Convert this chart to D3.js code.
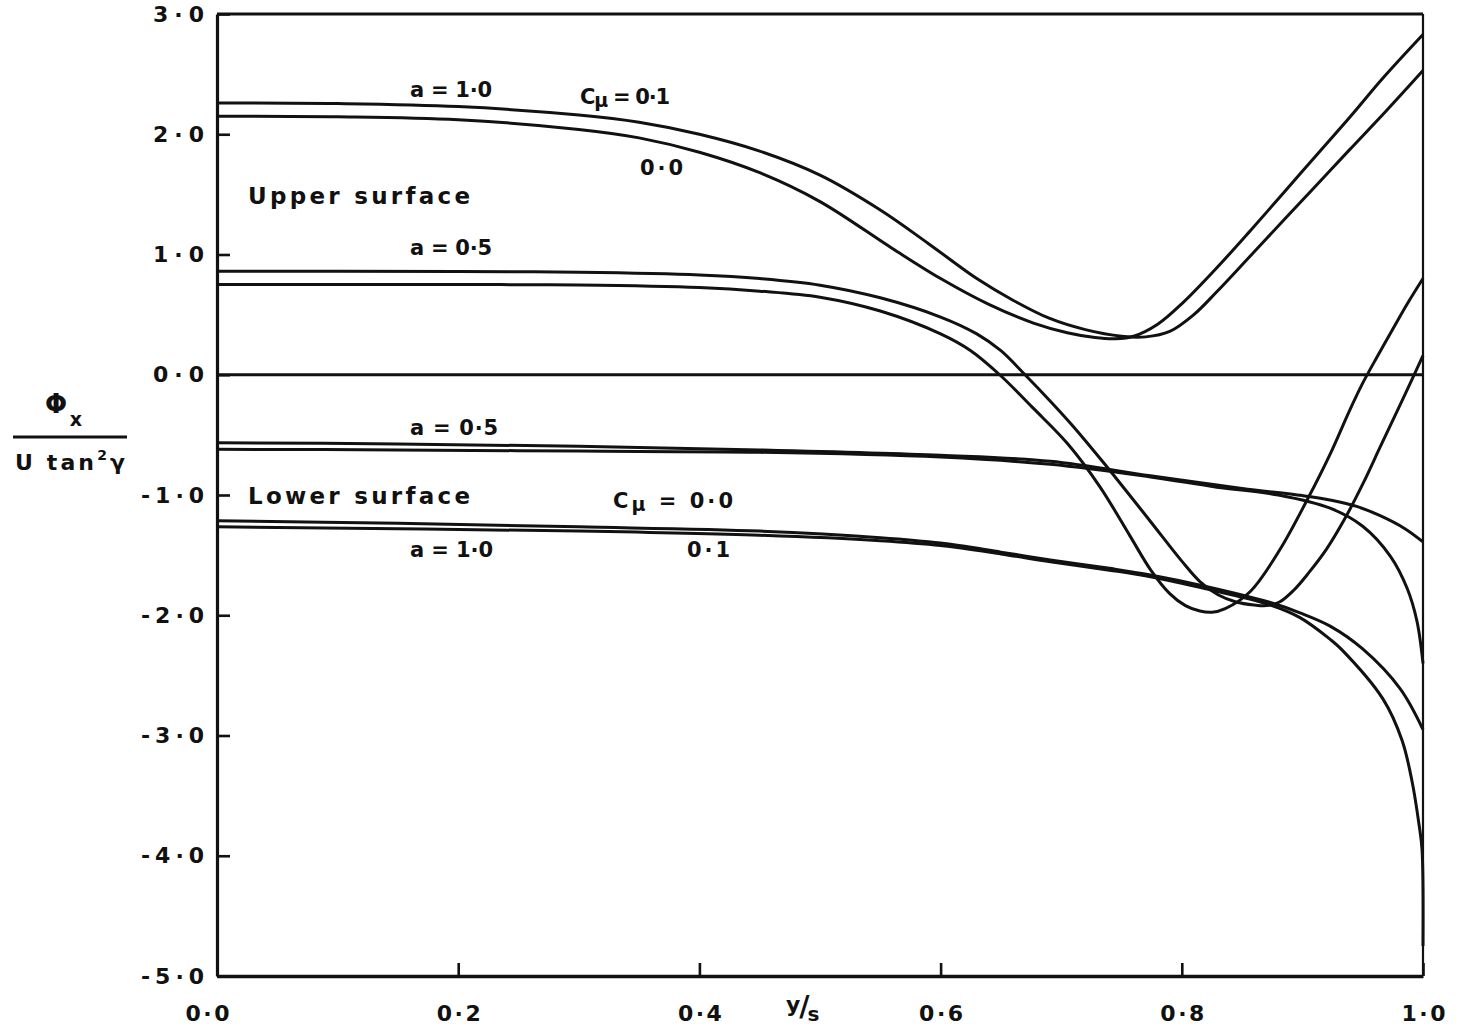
<!DOCTYPE html>
<html>
<head>
<meta charset="utf-8">
<script src="https://cdn.jsdelivr.net/npm/d3@7"></script>
<style>
  html, body { margin: 0; padding: 0; background: #fff; }
  svg text { font-family: "DejaVu Sans", sans-serif; font-weight: bold; fill: #111; }
</style>
</head>
<body>
<svg id="chart" width="1461" height="1026"></svg>
<script>
// ---- axes ----
const xTicks = [0, 0.2, 0.4, 0.6, 0.8, 1.0];
const yTicks = [3, 2, 1, 0, -1, -2, -3, -4, -5];

// ---- upper surface, a = 1.0 ----
const upperA10Cmu01 = [[0,2.26],[0.1,2.255],[0.2,2.23],[0.3,2.16],[0.35,2.10],[0.4,2.00],[0.45,1.86],[0.5,1.66],[0.55,1.37],[0.59,1.09],[0.63,0.80],[0.66,0.62],[0.69,0.47],[0.72,0.375],[0.75,0.32],[0.77,0.315],[0.79,0.36],[0.81,0.50],[0.829,0.69],[0.857,0.99],[0.884,1.28],[0.912,1.58],[0.939,1.87],[0.97,2.20],[1.0,2.53]];
const upperA10Cmu00 = [[0,2.15],[0.1,2.145],[0.2,2.12],[0.3,2.04],[0.35,1.97],[0.4,1.85],[0.45,1.68],[0.5,1.44],[0.56,1.05],[0.6,0.80],[0.64,0.585],[0.677,0.43],[0.705,0.35],[0.728,0.31],[0.745,0.30],[0.76,0.32],[0.78,0.42],[0.801,0.60],[0.83,0.90],[0.857,1.20],[0.885,1.52],[0.912,1.83],[0.94,2.15],[0.967,2.47],[1.0,2.83]];

// ---- upper surface, a = 0.5 ----
const upperA05Cmu01 = [[0,0.86],[0.1,0.86],[0.2,0.858],[0.3,0.852],[0.4,0.83],[0.45,0.80],[0.5,0.745],[0.55,0.64],[0.6,0.48],[0.63,0.34],[0.65,0.20],[0.67,0.0],[0.691,-0.22],[0.71,-0.43],[0.735,-0.73],[0.774,-1.22],[0.8,-1.55],[0.815,-1.72],[0.83,-1.83],[0.845,-1.89],[0.86,-1.915],[0.87,-1.92],[0.881,-1.89],[0.893,-1.79],[0.905,-1.65],[0.92,-1.45],[0.935,-1.20],[0.95,-0.91],[0.965,-0.59],[0.982,-0.23],[1.0,0.16]];
const upperA05Cmu00 = [[0,0.75],[0.1,0.75],[0.2,0.75],[0.3,0.746],[0.4,0.725],[0.45,0.695],[0.5,0.645],[0.55,0.53],[0.6,0.34],[0.625,0.20],[0.649,0.0],[0.677,-0.28],[0.705,-0.57],[0.732,-0.93],[0.757,-1.34],[0.774,-1.62],[0.79,-1.82],[0.803,-1.92],[0.815,-1.965],[0.825,-1.975],[0.836,-1.945],[0.857,-1.80],[0.881,-1.46],[0.904,-1.04],[0.923,-0.66],[0.939,-0.30],[0.95,-0.07],[0.962,0.15],[0.975,0.38],[0.987,0.59],[1.0,0.80]];

// ---- lower surface, a = 0.5 ----
const lowerA05Cmu00 = [[0,-0.565],[0.15,-0.575],[0.3,-0.595],[0.45,-0.625],[0.6,-0.67],[0.691,-0.72],[0.774,-0.84],[0.85,-0.945],[0.9,-1.005],[0.925,-1.045],[0.945,-1.095],[0.964,-1.17],[0.985,-1.28],[1.0,-1.39]];
const lowerA05Cmu01 = [[0,-0.62],[0.15,-0.625],[0.3,-0.635],[0.45,-0.645],[0.6,-0.685],[0.691,-0.745],[0.774,-0.85],[0.829,-0.935],[0.88,-1.0],[0.923,-1.11],[0.95,-1.26],[0.973,-1.51],[0.987,-1.78],[0.995,-2.05],[1.0,-2.40]];

// ---- lower surface, a = 1.0 ----
const lowerA10Cmu00 = [[0,-1.215],[0.15,-1.235],[0.3,-1.265],[0.45,-1.30],[0.55,-1.355],[0.6,-1.40],[0.65,-1.475],[0.691,-1.54],[0.74,-1.61],[0.774,-1.665],[0.82,-1.76],[0.872,-1.89],[0.898,-1.98],[0.923,-2.09],[0.95,-2.28],[0.981,-2.61],[1.0,-2.95]];
const lowerA10Cmu01 = [[0,-1.265],[0.15,-1.28],[0.3,-1.30],[0.45,-1.335],[0.55,-1.38],[0.6,-1.42],[0.65,-1.49],[0.691,-1.555],[0.74,-1.625],[0.774,-1.68],[0.82,-1.78],[0.872,-1.91],[0.898,-2.02],[0.923,-2.20],[0.932,-2.28],[0.967,-2.70],[0.9826,-3.04],[0.9909,-3.38],[0.9967,-3.74],[0.9992,-3.95],[1.0,-4.75]];

const curves = [upperA10Cmu01, upperA10Cmu00, upperA05Cmu01, upperA05Cmu00,
                lowerA05Cmu00, lowerA05Cmu01, lowerA10Cmu00, lowerA10Cmu01];

const fmt = v => (v < 0 ? "-" : "") + Math.abs(v).toFixed(1).replace(".", "\u00B7");

const svg = d3.select("#chart");
const ink = "#111";

const x = d3.scaleLinear().domain([0, 1]).range([217, 1423]);
const y = d3.scaleLinear().domain([-5, 3]).range([976, 14]);

// frame: top and right edges
svg.append("line").attr("x1", x(0)).attr("x2", x(1)).attr("y1", y(3)).attr("y2", y(3))
  .attr("stroke", ink).attr("stroke-width", 2.8);
svg.append("line").attr("x1", x(1)).attr("x2", x(1)).attr("y1", y(3)).attr("y2", y(-5))
  .attr("stroke", ink).attr("stroke-width", 2.2);

// zero line
svg.append("line").attr("x1", x(0)).attr("x2", x(1)).attr("y1", y(0)).attr("y2", y(0))
  .attr("stroke", ink).attr("stroke-width", 3);

// left axis, ticks pointing inward
const gy = svg.append("g").attr("transform", `translate(${x(0)},0)`)
  .call(d3.axisLeft(y).tickValues(yTicks).tickFormat(fmt).tickSize(-13).tickSizeOuter(0).tickPadding(13));
gy.select(".domain").attr("stroke", ink).attr("stroke-width", 3.2);
gy.selectAll(".tick line").attr("stroke", ink).attr("stroke-width", 2.6);
gy.selectAll(".tick text")
  .attr("font-size", 22).attr("fill", ink)
  .attr("textLength", d => d < 0 ? 63 : 51).attr("lengthAdjust", "spacing");

// bottom axis, ticks pointing inward
const gx = svg.append("g").attr("transform", `translate(0,${y(-5)})`)
  .call(d3.axisBottom(x).tickValues(xTicks).tickFormat(fmt).tickSize(-13).tickSizeOuter(0).tickPadding(29));
gx.select(".domain").attr("stroke", ink).attr("stroke-width", 3.6);
gx.selectAll(".tick line").attr("stroke", ink).attr("stroke-width", 2.6);
gx.selectAll(".tick text")
  .attr("font-size", 22).attr("fill", ink)
  .attr("dx", (d, i) => i === 0 ? -10 : 0)
  .attr("textLength", 44).attr("lengthAdjust", "spacing");

// curves, drawn as smooth splines through the read-off points
const line = d3.line().x(d => x(d[0])).y(d => y(d[1])).curve(d3.curveCatmullRom.alpha(0.5));
svg.append("g").selectAll("path").data(curves).join("path")
  .attr("d", line)
  .attr("fill", "none")
  .attr("stroke", ink)
  .attr("stroke-width", 3)
  .attr("stroke-linejoin", "round");

// x-axis title: y/s
const xt = svg.append("text").attr("x", 786).attr("y", 1012).attr("font-size", 22).attr("font-weight", "normal");
xt.append("tspan").text("y");
xt.append("tspan").attr("font-size", 28).attr("dx", -1).attr("dy", 4).text("/");
xt.append("tspan").attr("font-size", 20).attr("dx", -2).attr("dy", 5).text("s");

// y-axis title: Phi_x over U tan^2 gamma
svg.append("text").attr("x", 56).attr("y", 413).attr("text-anchor", "middle")
  .attr("font-size", 26).attr("font-weight", "normal").text("\u03A6");
svg.append("text").attr("x", 76).attr("y", 426).attr("text-anchor", "middle")
  .attr("font-size", 19).text("x");
svg.append("line").attr("x1", 13).attr("x2", 127).attr("y1", 437).attr("y2", 437)
  .attr("stroke", ink).attr("stroke-width", 3);
const yt = svg.append("text").attr("x", 15).attr("y", 470).attr("font-size", 22)
  .attr("textLength", 110).attr("lengthAdjust", "spacing");
yt.append("tspan").text("U tan");
yt.append("tspan").attr("font-size", 14).attr("dy", -10).text("2");
yt.append("tspan").attr("dy", 10).text("\u03B3");

// curve annotations
const notes = [
  { t: "a = 1\u00B70", x: 410, y: 97, w: 82 },
  { t: "0\u00B70", x: 640, y: 175, w: 43 },
  { t: "Upper surface", x: 248, y: 204, w: 222, big: true },
  { t: "a = 0\u00B75", x: 410, y: 255, w: 82 },
  { t: "a = 0\u00B75", x: 410, y: 435, w: 88 },
  { t: "Lower surface", x: 248, y: 504, w: 222, big: true },
  { t: "a = 1\u00B70", x: 410, y: 557, w: 83 },
  { t: "0\u00B71", x: 687, y: 557, w: 43 }
];
svg.append("g").selectAll("text").data(notes).join("text")
  .attr("x", d => d.x).attr("y", d => d.y)
  .attr("font-size", d => d.big ? 23 : 21)
  .attr("textLength", d => d.w).attr("lengthAdjust", "spacing")
  .text(d => d.t);

// C-mu labels with subscript
function cmu(px, py, val, w) {
  const t = svg.append("text").attr("x", px).attr("y", py).attr("font-size", 21)
    .attr("textLength", w).attr("lengthAdjust", "spacing");
  t.append("tspan").text("C");
  t.append("tspan").attr("font-size", 19).attr("dy", 3).text("\u03BC");
  t.append("tspan").attr("dy", -3).text(" = " + val);
}
cmu(580, 104, "0\u00B71", 90);
cmu(613, 508, "0\u00B70", 120);
</script>
</body>
</html>
